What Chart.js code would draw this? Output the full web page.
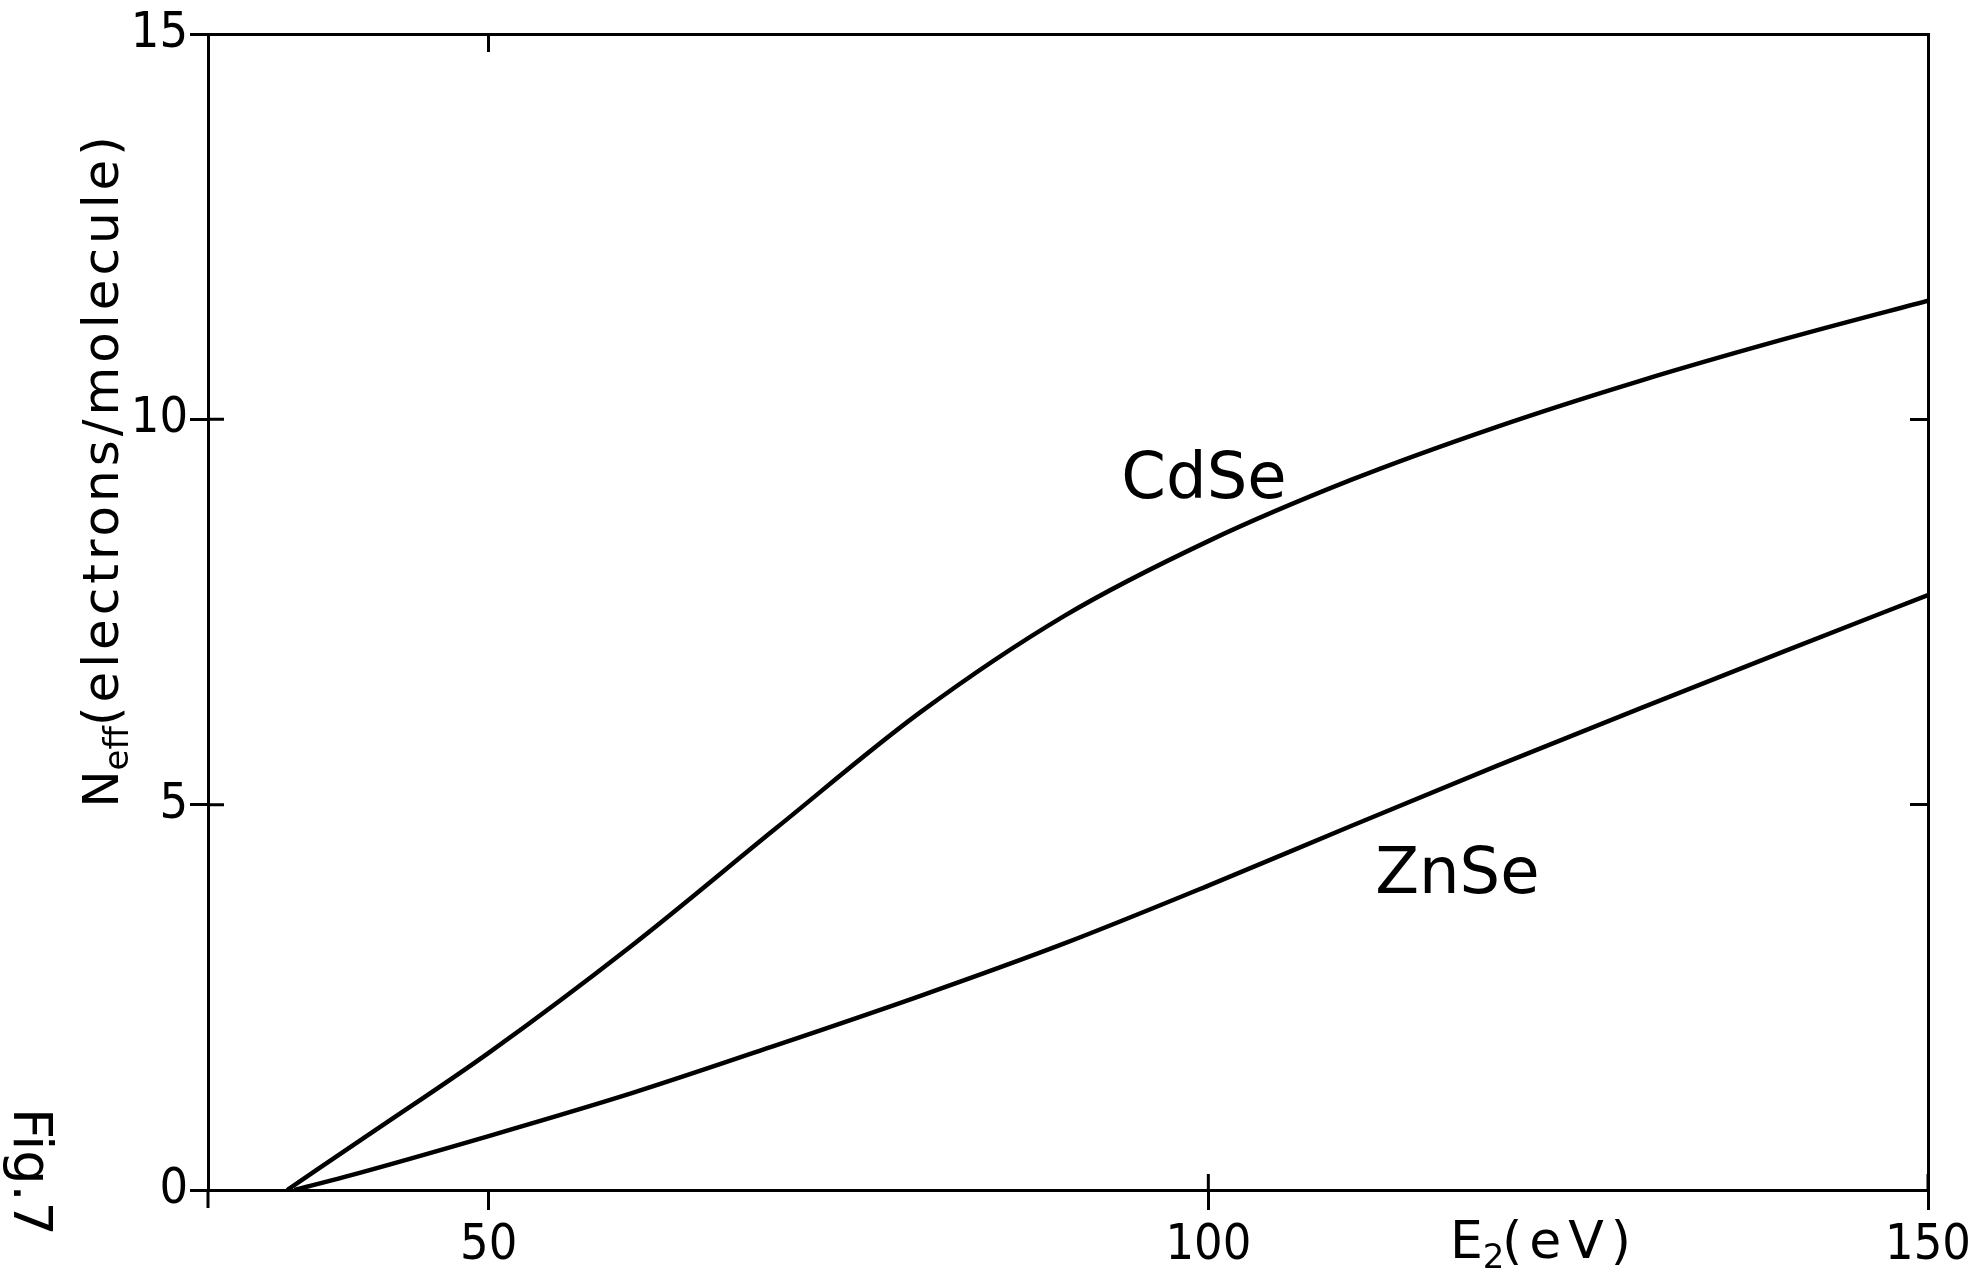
<!DOCTYPE html>
<html>
<head>
<meta charset="utf-8">
<script src="https://cdn.jsdelivr.net/npm/chart.js@4.4.1/dist/chart.umd.min.js"></script>
<style>
  html, body { margin: 0; padding: 0; background: #fff; }
  #wrap { width: 1980px; height: 1271px; }
</style>
</head>
<body>
<div id="wrap"><canvas id="fig" width="1980" height="1271"></canvas></div>
<script>
// values: E2 in eV, Neff in electrons/molecule
const cdseEnergy = [36, 42, 50, 60, 70, 80, 90, 100, 110, 120, 130, 140, 150];
const cdseNeff   = [0, 0.76, 1.78, 3.18, 4.70, 6.20, 7.45, 8.42, 9.22, 9.90, 10.50, 11.04, 11.54];

const znseEnergy = [36.5, 40, 50, 60, 70, 80, 90, 100, 110, 120, 130, 140, 150];
const znseNeff   = [0, 0.17, 0.70, 1.26, 1.88, 2.52, 3.20, 3.95, 4.73, 5.50, 6.25, 6.99, 7.72];

const xTicks = [50, 100, 150];
const yTicks = [0, 5, 10, 15];
const xTicksTop = [50];
const yTicksRight = [5, 10];
// ticks on the left / bottom axes that also cross into the plot
const xTicksCross = [100, 150];
const yTicksCross = [5, 10];

const curveLabels = [
    { text: 'CdSe', x: 99.7, y: 9.2 },
    { text: 'ZnSe', x: 117.3, y: 4.07 }
];

const xMin = 30.5, xMax = 150, yMin = 0, yMax = 15;

const toPoints = (xs, ys) => xs.map((v, i) => ({ x: v, y: ys[i] }));

const axisFont = { family: '"Liberation Sans Narrow", "DejaVu Sans Condensed", "Liberation Sans"', size: 50 };
const ink = '#000';

function setTicks(values) {
    return scale => { scale.ticks = values.map(v => ({ value: v })); };
}

// draws a run of text pieces (for subscripts) starting at x0 on the baseline
function drawPieces(ctx, pieces, x0, y0) {
    let x = x0;
    pieces.forEach(p => {
	ctx.font = p.size + 'px "DejaVu Sans"';
	ctx.letterSpacing = (p.spacing || 0) + 'px';
	ctx.fillText(p.t, x, y0 + (p.dy || 0));
	x += ctx.measureText(p.t).width;
    });
}

function piecesWidth(ctx, pieces) {
    let w = 0;
    pieces.forEach(p => {
	ctx.font = p.size + 'px "DejaVu Sans"';
	ctx.letterSpacing = (p.spacing || 0) + 'px';
	w += ctx.measureText(p.t).width;
    });
    return w;
}

const extras = {
    id: 'extras',
    afterDraw(chart) {
	const ctx = chart.ctx;
	const a = chart.chartArea;
	const x = chart.scales.x;
	const y = chart.scales.y;
	ctx.save();
	ctx.strokeStyle = ink;
	ctx.lineWidth = 3;
	ctx.beginPath();
	yTicksCross.forEach(v => {
	    const py = y.getPixelForValue(v);
	    ctx.moveTo(a.left, py);
	    ctx.lineTo(a.left + 16, py);
	});
	xTicksCross.forEach(v => {
	    const px = x.getPixelForValue(v);
	    ctx.moveTo(px, a.bottom);
	    ctx.lineTo(px, a.bottom - 16);
	});
	// the left axis runs a little past the zero line
	ctx.moveTo(a.left, a.bottom);
	ctx.lineTo(a.left, a.bottom + 18);
	ctx.stroke();

	ctx.fillStyle = ink;
	ctx.textBaseline = 'middle';
	ctx.textAlign = 'center';
	ctx.font = '64px "DejaVu Sans"';
	curveLabels.forEach(l => {
	    ctx.fillText(l.text, x.getPixelForValue(l.x), y.getPixelForValue(l.y));
	});

	ctx.textAlign = 'left';
	ctx.textBaseline = 'alphabetic';

	// y axis title, turned to read upwards
	const yTitle = [
	    { t: 'N', size: 50 },
	    { t: 'eff', size: 34, dy: 10 },
	    { t: '(electrons/molecule)', size: 50, spacing: 4 }
	];
	ctx.save();
	ctx.translate(118, 470);
	ctx.rotate(-Math.PI / 2);
	drawPieces(ctx, yTitle, -piecesWidth(ctx, yTitle) / 2, 0);
	ctx.restore();

	// x axis title
	drawPieces(ctx, [{ t: 'E', size: 52 }, { t: '2', size: 34, dy: 10 }], 1450, 1258);
	drawPieces(ctx, [{ t: '(eV)', size: 52, spacing: 7 }], 1502, 1258);

	// figure number, turned the other way
	ctx.save();
	ctx.translate(14, 1172);
	ctx.rotate(Math.PI / 2);
	ctx.textAlign = 'center';
	ctx.font = '54px "DejaVu Sans"';
	ctx.letterSpacing = '0px';
	ctx.fillText('Fig.7', 0, 0);
	ctx.restore();

	ctx.restore();
    }
};

new Chart(
    document.getElementById('fig'),
    {
	type: 'line',
	data: {
	    datasets: [
		{
		    label: 'CdSe',
		    data: toPoints(cdseEnergy, cdseNeff),
		    borderColor: ink,
		    borderWidth: 4.5,
		    pointRadius: 0,
		    cubicInterpolationMode: 'monotone',
		    fill: false
		},
		{
		    label: 'ZnSe',
		    data: toPoints(znseEnergy, znseNeff),
		    borderColor: ink,
		    borderWidth: 4.5,
		    pointRadius: 0,
		    cubicInterpolationMode: 'monotone',
		    fill: false
		}
	    ]
	},
	options: {
	    responsive: false,
	    animation: false,
	    devicePixelRatio: 1,
	    layout: { padding: 0 },
	    plugins: {
		legend: { display: false },
		tooltip: { enabled: false },
		title: { display: false }
	    },
	    scales: {
		x: {
		    type: 'linear',
		    position: 'bottom',
		    min: xMin,
		    max: xMax,
		    afterBuildTicks: setTicks(xTicks),
		    afterFit: s => { s.height = 81; },
		    border: { display: true, color: ink, width: 3 },
		    grid: { display: true, drawOnChartArea: false, drawTicks: true, tickLength: 20, color: ink, lineWidth: 3 },
		    ticks: { color: ink, font: axisFont, padding: 6, maxRotation: 0, autoSkip: false }
		},
		x2: {
		    type: 'linear',
		    position: 'top',
		    min: xMin,
		    max: xMax,
		    afterBuildTicks: setTicks(xTicksTop),
		    afterFit: s => { s.height = 34; },
		    border: { display: true, color: ink, width: 3 },
		    grid: { display: true, drawOnChartArea: false, drawTicks: true, tickLength: -18, color: ink, lineWidth: 3 },
		    ticks: { display: false }
		},
		y: {
		    type: 'linear',
		    position: 'left',
		    min: yMin,
		    max: yMax,
		    afterBuildTicks: setTicks(yTicks),
		    afterFit: s => { s.width = 208; },
		    border: { display: true, color: ink, width: 3 },
		    grid: { display: true, drawOnChartArea: false, drawTicks: true, tickLength: 18, color: ink, lineWidth: 3 },
		    ticks: { color: ink, font: axisFont, padding: 2 }
		},
		y2: {
		    type: 'linear',
		    position: 'right',
		    min: yMin,
		    max: yMax,
		    afterBuildTicks: setTicks(yTicksRight),
		    afterFit: s => { s.width = 52; },
		    border: { display: true, color: ink, width: 3 },
		    grid: { display: true, drawOnChartArea: false, drawTicks: true, tickLength: -18, color: ink, lineWidth: 3 },
		    ticks: { display: false }
		}
	    }
	},
	plugins: [extras]
    }
);
</script>
</body>
</html>
